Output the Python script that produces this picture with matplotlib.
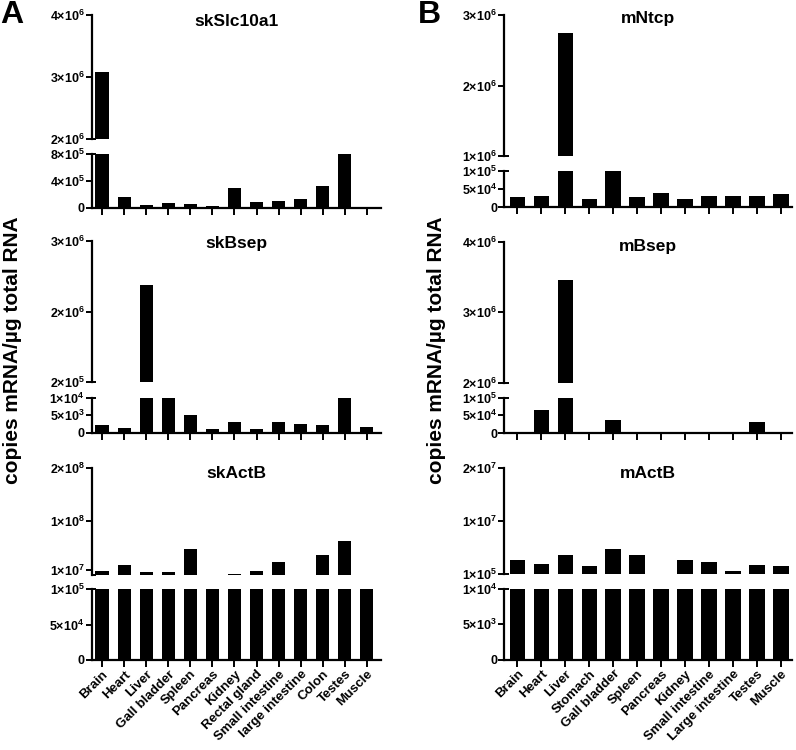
import matplotlib
matplotlib.use("Agg")
import matplotlib.pyplot as plt
import numpy as np

plt.rcParams['font.family'] = ['Liberation Sans', 'DejaVu Sans']
plt.rcParams['font.weight'] = 'bold'
plt.rcParams['mathtext.fontset'] = 'custom'
plt.rcParams['mathtext.rm'] = 'Liberation Sans:bold'
plt.rcParams['mathtext.it'] = 'Liberation Sans:bold'
plt.rcParams['mathtext.bf'] = 'Liberation Sans:bold'

# ---------------- data ----------------
tissues_A = ["Brain", "Heart", "Liver", "Gall bladder", "Spleen", "Pancreas", "Kidney",
             "Rectal gland", "Small intestine", "large intestine", "Colon", "Testes", "Muscle"]
tissues_B = ["Brain", "Heart", "Liver", "Stomach", "Gall bladder", "Spleen", "Pancreas",
             "Kidney", "Small intestine", "Large intestine", "Testes", "Muscle"]

skSlc10a1 = [3.09e6, 1.65e5, 3.5e4, 6.5e4, 5.5e4, 3.0e4, 2.95e5, 9.0e4, 1.05e5, 1.35e5, 3.2e5, 9.0e5, 1.5e4]
skBsep = [2.1e3, 1.15e3, 2.38e6, 5.0e4, 4.9e3, 9.6e2, 3.0e3, 1.06e3, 2.9e3, 2.4e3, 2.2e3, 5.0e4, 1.44e3]
skActB = [8.2e6, 1.95e7, 5.1e6, 5.1e6, 4.9e7, 1.0e5, 1.3e6, 7.6e6, 2.4e7, 7.0e5, 3.76e7, 6.4e7, 1.0e5]

mNtcp = [2.8e4, 3.1e4, 2.75e6, 2.2e4, 3.0e5, 2.7e4, 3.8e4, 2.1e4, 3.0e4, 3.1e4, 3.0e4, 3.5e4]
mBsep = [0, 6.5e4, 3.46e6, 0, 3.65e4, 0, 0, 0, 0, 0, 3.1e4, 0]
mActB = [2.67e6, 1.98e6, 3.6e6, 1.48e6, 4.67e6, 3.67e6, 5.0e4, 2.67e6, 2.23e6, 5.4e5, 1.79e6, 1.6e6]

# axis segments: (lower limits, lower ticks, lower labels, upper limits, upper ticks, upper labels)
seg_skSlc10a1 = ((0, 8e5), [0, 4e5, 8e5], ["0", "4×10^5", "8×10^5"],
                 (2e6, 4e6), [2e6, 3e6, 4e6], ["2×10^6", "3×10^6", "4×10^6"])
seg_skBsep = ((0, 1e4), [0, 5e3, 1e4], ["0", "5×10^3", "1×10^4"],
              (1e6, 3e6), [1e6, 2e6, 3e6], ["2×10^5", "2×10^6", "3×10^6"])
seg_skActB = ((0, 1e5), [0, 5e4, 1e5], ["0", "5×10^4", "1×10^5"],
              (1e5, 2e8), [1e7, 1e8, 2e8], ["1×10^7", "1×10^8", "2×10^8"])
seg_mNtcp = ((0, 1e5), [0, 5e4, 1e5], ["0", "5×10^4", "1×10^5"],
             (1e6, 3e6), [1e6, 2e6, 3e6], ["1×10^6", "2×10^6", "3×10^6"])
seg_mBsep = ((0, 1e5), [0, 5e4, 1e5], ["0", "5×10^4", "1×10^5"],
             (2e6, 4e6), [2e6, 3e6, 4e6], ["2×10^6", "3×10^6", "4×10^6"])
seg_mActB = ((0, 1e4), [0, 5e3, 1e4], ["0", "5×10^3", "1×10^4"],
             (1e5, 2e7), [1e5, 1e7, 2e7], ["1×10^5", "1×10^7", "2×10^7"])

titles_A = ["skSlc10a1", "skBsep", "skActB"]
titles_B = ["mNtcp", "mBsep", "mActB"]
ylabel = "copies mRNA/µg total RNA"

# ---------------- layout (pixels) ----------------
W, H = 796, 750
fig = plt.figure(figsize=(W / 100, H / 100), dpi=100)


def rect(l, r, t, b):
    return [l / W, 1 - b / H, (r - l) / W, (b - t) / H]


def fmt(s):
    if "^" not in s:
        return s
    m, e = s.split("^")
    m = m.replace("×", r"{\times}")
    return r"$" + m + "^{" + e + "}$"


def cap(ax, y, length):
    ax.plot([0, length], [y, y], transform=ax.transAxes, color="black",
            lw=1.4, clip_on=False, solid_capstyle="butt")


def panel(names, values, seg, xl, xr, rows, xlim, width, title, title_y, show_labels):
    (ut, ub), (lt, lb) = rows
    lo_lim, lo_ticks, lo_lab, up_lim, up_ticks, up_lab = seg
    x = np.arange(len(names))
    ax_u = fig.add_axes(rect(xl, xr, ut, ub))
    ax_l = fig.add_axes(rect(xl, xr, lt, lb))
    for ax, lim, ticks, labs in ((ax_u, up_lim, up_ticks, up_lab), (ax_l, lo_lim, lo_ticks, lo_lab)):
        ax.bar(x, values, width=width, color="black", linewidth=0)
        ax.set_xlim(*xlim)
        ax.set_ylim(*lim)
        ax.set_yticks(ticks)
        ax.set_yticklabels([fmt(s) for s in labs])
        ax.spines["top"].set_visible(False)
        ax.spines["right"].set_visible(False)
        ax.spines["left"].set_linewidth(1.6)
        ax.spines["bottom"].set_linewidth(1.6)
        ax.tick_params(axis="y", direction="out", length=4, width=1.4, labelsize=9, pad=1)
        ax.patch.set_alpha(0)
    ax_u.spines["bottom"].set_visible(False)
    ax_u.set_xticks([])
    ax_l.set_xticks(x)
    ax_l.tick_params(axis="x", direction="out", length=5, width=1.4, labelsize=9.5, pad=1)
    if show_labels:
        ax_l.set_xticklabels(names, rotation=45, ha="right", rotation_mode="anchor")
    else:
        ax_l.set_xticklabels([])
    frac = 4.5 / (xr - xl)
    cap(ax_u, 0, frac)
    cap(ax_l, 1, frac)
    fig.text((xl + xr) / 2 / W, 1 - title_y / H, title, ha="center", va="center",
             fontsize=12.5, fontweight="bold")


rows_A = [((15, 139.3), (154, 207.7)), ((240.7, 382.3), (397.5, 432.5)), ((467.7, 575), (589, 660))]
rows_B = [((15, 156), (170.7, 207)), ((241.7, 383), (397.5, 433)), ((467.7, 573.7), (588.7, 659.7))]
title_y_A = [22, 244, 473]
title_y_B = [18, 247, 473]

data_A = [(skSlc10a1, seg_skSlc10a1), (skBsep, seg_skBsep), (skActB, seg_skActB)]
data_B = [(mNtcp, seg_mNtcp), (mBsep, seg_mBsep), (mActB, seg_mActB)]

for i in range(3):
    panel(tissues_A, data_A[i][0], data_A[i][1], 91.5, 381, rows_A[i], (-0.48, 12.64), 0.6,
          titles_A[i], title_y_A[i], i == 2)
    panel(tissues_B, data_B[i][0], data_B[i][1], 504, 792, rows_B[i], (-0.56, 11.46), 0.65,
          titles_B[i], title_y_B[i], i == 2)

fig.text(13 / W, 1 - 350 / H, ylabel, rotation=90, ha="center", va="center",
         fontsize=15, fontweight="bold")
fig.text(436 / W, 1 - 350 / H, ylabel, rotation=90, ha="center", va="center",
         fontsize=15, fontweight="bold")
fig.text(12 / W, 1 - 15 / H, "A", ha="center", va="center", fontsize=23, fontweight="bold")
fig.text(429 / W, 1 - 15 / H, "B", ha="center", va="center", fontsize=23, fontweight="bold")

fig.savefig("out.png", dpi=100)
